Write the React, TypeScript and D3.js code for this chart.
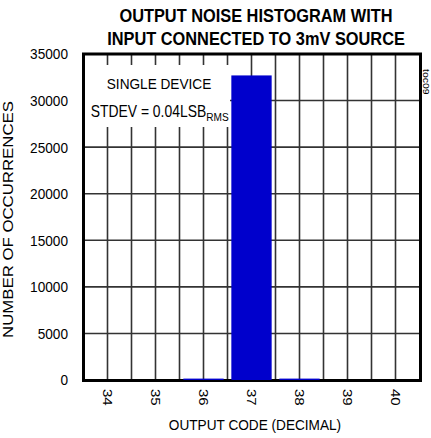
import React from "react";
import * as d3 from "d3";

const codes = [34, 35, 36, 37, 38, 39, 40];
const counts = [0, 0, 150, 32700, 150, 0, 0];
const yTicks = [0, 5000, 10000, 15000, 20000, 25000, 30000, 35000];
const titleLines = ["OUTPUT NOISE HISTOGRAM WITH", "INPUT CONNECTED TO 3mV SOURCE"];
const xTitle = "OUTPUT CODE (DECIMAL)";
const yTitle = "NUMBER OF OCCURRENCES";
const noteLine1 = "SINGLE DEVICE";
const noteLine2 = "STDEV = 0.04LSB";
const noteSub = "RMS";
const figId = "toc09";

const W = 431;
const H = 438;
const SX = 0.88;
const FONT = "'Liberation Sans', Arial, Helvetica, sans-serif";

const L = 83.5, R = 420.5, T = 54, B = 380.5;

const x = d3.scaleLinear().domain([33.5, 40.5]).range([L, R - 1]);
const y = d3.scaleLinear().domain([0, 35000]).range([380, T]);

function Txt({ x: tx, y: ty, rot = 0, size, anchor = "start", weight = "normal", dy, children }: any) {
  return (
    <text
      transform={`translate(${tx},${ty}) scale(${SX},1)${rot ? ` rotate(${rot})` : ""}`}
      fontSize={size}
      fontFamily={FONT}
      fontWeight={weight}
      textAnchor={anchor}
      dy={dy}
      fill="#000"
    >
      {children}
    </text>
  );
}

export default function App() {
  const vGrid = d3.range(34, 40.01, 0.5);
  const barHalf = 0.42;
  return (
    <svg width={W} height={H} style={{ position: "absolute", left: 0, top: 0, background: "#fff" }}>
      <rect x={0} y={0} width={W} height={H} fill="#fff" />
      {/* grid */}
      {yTicks.slice(1, -1).map((v) => (
        <line key={"h" + v} x1={L} x2={R} y1={y(v)} y2={y(v)} stroke="#333" strokeWidth={1.6} />
      ))}
      {vGrid.map((v) => (
        <line key={"v" + v} x1={x(v)} x2={x(v)} y1={T} y2={B} stroke="#333" strokeWidth={1.6} />
      ))}
      {/* annotation box */}
      <rect x={L + 1.5} y={65} width={230 - L - 1.5} height={62} fill="#fff" />
      <Txt x={159} y={88.5} size={15.5} anchor="middle">{noteLine1}</Txt>
      <text
        transform={`translate(90.7,116.7) scale(${SX},1)`}
        fontSize={15.8}
        fontFamily={FONT}
        fill="#000"
      >
        {noteLine2}
        <tspan fontSize={11.5} dy={4.5}>{noteSub}</tspan>
      </text>
      {/* frame */}
      <rect x={L} y={T} width={R - L} height={B - T} fill="none" stroke="#000" strokeWidth={3} />
      {/* bars */}
      {codes.map((c, i) =>
        counts[i] > 0 ? (
          <rect
            key={"b" + c}
            x={x(c - barHalf)}
            y={y(counts[i])}
            width={x(c + barHalf) - x(c - barHalf)}
            height={y(0) - y(counts[i])}
            fill="#0000cc"
          />
        ) : null
      )}
      {/* y tick labels */}
      {yTicks.map((v) => (
        <Txt key={"yt" + v} x={68} y={y(v)} size={15.5} anchor="end" dy="0.35em">{v}</Txt>
      ))}
      {/* x tick labels */}
      {codes.map((c) => (
        <Txt key={"xt" + c} x={x(c)} y={389} rot={90} size={15} anchor="start" dy="0.35em">{c}</Txt>
      ))}
      {/* titles */}
      <Txt x={256} y={21.7} size={18.6} anchor="middle" weight="bold">{titleLines[0]}</Txt>
      <Txt x={256} y={45} size={18.6} anchor="middle" weight="bold">{titleLines[1]}</Txt>
      <Txt x={255} y={430} size={15.5} anchor="middle">{xTitle}</Txt>
      <Txt x={13.3} y={219.5} rot={-90} size={16.8} anchor="middle">{yTitle}</Txt>
      <Txt x={423} y={69} rot={90} size={10.5} anchor="start">{figId}</Txt>
    </svg>
  );
}
